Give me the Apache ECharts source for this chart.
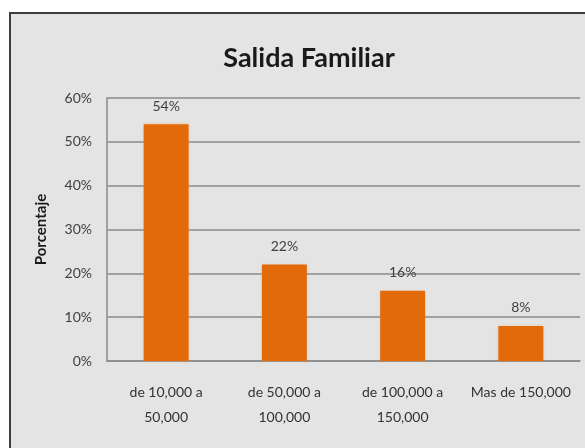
<!DOCTYPE html>
<html lang="es">
<head>
    <meta charset="UTF-8">
    <title>Salida Familiar</title>
    <style>
        body { margin: 0; background: #fff; }
        #frame { position: absolute; left: 9px; top: 12px; width: 600px; height: 460px;
                 background: #e4e4e4; border-left: 2px solid #3c3c3c; border-top: 2px solid #3c3c3c; }
        #chart { position: absolute; left: 0; top: 0; width: 585px; height: 448px; }
    </style>
</head>
<body>
<div id="frame"></div>
<div id="chart"></div>

<script src="https://cdn.jsdelivr.net/npm/echarts@6/dist/echarts.min.js"></script>
<script>
    // datos del gráfico
    var categorias = ['de 10,000 a\n50,000', 'de 50,000 a\n100,000', 'de 100,000 a\n150,000', 'Mas de 150,000'];
    var porcentajes = [54, 22, 16, 8];
    var ticksY = [0, 10, 20, 30, 40, 50, 60];

    var fuente = 'Lato, "Open Sans", sans-serif';
    var chart = echarts.init(document.getElementById('chart'));

    var option = {
        backgroundColor: 'transparent',
        title: {
            text: 'Salida Familiar',
            left: 304,
            top: 40,
            textAlign: 'center',
            textStyle: { fontFamily: fuente, fontSize: 27, fontWeight: 'bold', color: '#1a1a1a' }
        },
        grid: { left: 107, right: 5, top: 98, bottom: 87 },
        xAxis: {
            type: 'category',
            data: categorias,
            axisLine: { lineStyle: { color: '#8a8a8a', width: 1.5 } },
            axisTick: { show: false },
            axisLabel: { fontFamily: fuente, fontSize: 14, color: '#333', lineHeight: 25, margin: 19, interval: 0 }
        },
        yAxis: {
            type: 'value',
            min: ticksY[0],
            max: ticksY[ticksY.length - 1],
            interval: 10,
            name: 'Porcentaje',
            nameLocation: 'middle',
            nameGap: 58,
            nameTextStyle: { fontFamily: fuente, fontSize: 15, fontWeight: 'bold', color: '#1a1a1a' },
            axisLine: { show: true, lineStyle: { color: '#8a8a8a', width: 1.5 } },
            axisTick: { show: false },
            splitLine: { lineStyle: { color: '#8a8a8a', width: 1.5 } },
            axisLabel: { fontFamily: fuente, fontSize: 14, color: '#404040', margin: 15,
                         formatter: function (v) { return v + '%'; } }
        },
        series: [{
            type: 'bar',
            data: porcentajes,
            barWidth: '38%',
            itemStyle: { color: '#e36a0a', shadowColor: 'rgba(240,160,90,0.6)', shadowBlur: 3 },
            label: {
                show: true,
                position: 'top',
                distance: 11,
                fontFamily: fuente,
                fontSize: 14,
                color: '#404040',
                formatter: function (p) { return p.value + '%'; }
            }
        }]
    };
    chart.setOption(option);
</script>
</body>
</html>
